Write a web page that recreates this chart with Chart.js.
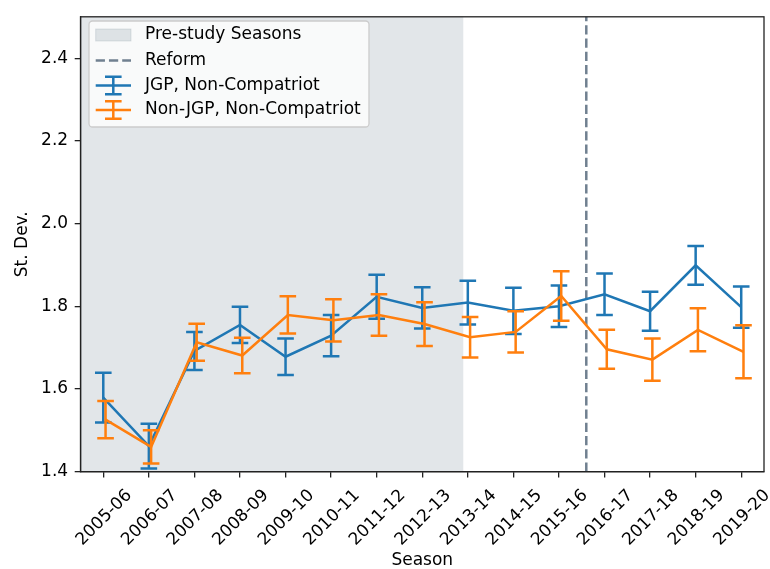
<!DOCTYPE html>
<html>
<head>
<meta charset="utf-8">
<script src="https://cdn.jsdelivr.net/npm/chart.js@4.4.1/dist/chart.umd.min.js"></script>
<style>
body{margin:0;background:#fff}
</style>
</head>
<body>
<canvas id="myChart" width="770" height="569"></canvas>
<script>
var seasons=['2005-06','2006-07','2007-08','2008-09','2009-10','2010-11','2011-12','2012-13','2013-14','2014-15','2015-16','2016-17','2017-18','2018-19','2019-20']
var yTicks=[1.4,1.6,1.8,2.0,2.2,2.4]

var jgp=[1.579,1.462,1.692,1.755,1.678,1.729,1.823,1.796,1.809,1.789,1.800,1.829,1.788,1.899,1.798]
var jgpErr=[0.060,0.054,0.046,0.044,0.044,0.050,0.053,0.050,0.053,0.056,0.050,0.050,0.047,0.047,0.050]
var nonJgp=[1.526,1.460,1.713,1.681,1.779,1.766,1.779,1.757,1.725,1.738,1.825,1.696,1.671,1.743,1.690]
var nonJgpErr=[0.045,0.040,0.045,0.043,0.045,0.051,0.050,0.053,0.049,0.050,0.060,0.047,0.051,0.052,0.064]

var preStudyEnd=7.9
var reformAt=10.6
var nonJgpShift=0.05

var blue='#1f77b4'
var orange='#ff7f0e'
var shade='rgba(112,128,144,0.2)'
var font='"DejaVu Sans"'
var fsize=17

function points(vals,shift){
    return vals.map(function(v,i){return {x:i+shift,y:v}})
}

var extras={
    id:'extras',
    beforeDatasetsDraw:function(chart){
        var ctx=chart.ctx, a=chart.chartArea, x=chart.scales.x
        ctx.save()
        ctx.fillStyle=shade
        var x1=x.getPixelForValue(preStudyEnd)
        ctx.fillRect(a.left,a.top,x1-a.left,a.bottom-a.top)
        var rx=x.getPixelForValue(reformAt)
        ctx.strokeStyle='slategray'
        ctx.lineWidth=2.5
        ctx.setLineDash([9.25,4])
        ctx.beginPath()
        ctx.moveTo(rx,a.bottom)
        ctx.lineTo(rx,a.top)
        ctx.stroke()
        ctx.restore()
    },
    afterDatasetDraw:function(chart,args){
        var ds=chart.data.datasets[args.index]
        var ctx=chart.ctx, x=chart.scales.x, y=chart.scales.y
        ctx.save()
        ctx.strokeStyle=ds.borderColor
        ctx.lineWidth=2.5
        ds.data.forEach(function(p,i){
            var e=ds.errors[i]
            var px=x.getPixelForValue(p.x)
            var t=y.getPixelForValue(p.y+e)
            var b=y.getPixelForValue(p.y-e)
            ctx.beginPath()
            ctx.moveTo(px,t);ctx.lineTo(px,b)
            ctx.moveTo(px-8.3,t);ctx.lineTo(px+8.3,t)
            ctx.moveTo(px-8.3,b);ctx.lineTo(px+8.3,b)
            ctx.stroke()
        })
        ctx.restore()
    },
    afterDraw:function(chart){
        var ctx=chart.ctx, a=chart.chartArea
        ctx.save()
        // frame
        ctx.strokeStyle='#222'
        ctx.lineWidth=1.3
        ctx.strokeRect(a.left,a.top,a.right-a.left,a.bottom-a.top)

        // legend
        ctx.fillStyle='rgba(255,255,255,0.8)'
        ctx.strokeStyle='#cccccc'
        ctx.lineWidth=1.3
        ctx.beginPath()
        ctx.roundRect(89,21,280,106,3.5)
        ctx.fill()
        ctx.stroke()

        var hx0=95.7, hx1=131, hc=113.3
        ctx.fillStyle=shade
        ctx.fillRect(hx0,29,hx1-hx0,12)
        ctx.strokeStyle=shade
        ctx.lineWidth=1
        ctx.strokeRect(hx0,29,hx1-hx0,12)

        ctx.strokeStyle='slategray'
        ctx.lineWidth=2.5
        ctx.setLineDash([9.25,4])
        ctx.beginPath()
        ctx.moveTo(hx0,60.5);ctx.lineTo(hx1,60.5)
        ctx.stroke()
        ctx.setLineDash([])

        ;[[blue,85.5],[orange,110]].forEach(function(h){
            ctx.strokeStyle=h[0]
            ctx.beginPath()
            ctx.moveTo(hx0,h[1]);ctx.lineTo(hx1,h[1])
            ctx.moveTo(hc,h[1]-8.8);ctx.lineTo(hc,h[1]+8.8)
            ctx.moveTo(hc-8.3,h[1]-8.8);ctx.lineTo(hc+8.3,h[1]-8.8)
            ctx.moveTo(hc-8.3,h[1]+8.8);ctx.lineTo(hc+8.3,h[1]+8.8)
            ctx.stroke()
        })

        ctx.fillStyle='#000'
        ctx.font=fsize+'px '+font
        ctx.textBaseline='middle'
        ctx.textAlign='left'
        ctx.fillText('Pre-study Seasons',145,35)
        ctx.fillText('Reform',145,60.5)
        ctx.fillText('JGP, Non-Compatriot',145,85.5)
        ctx.fillText('Non-JGP, Non-Compatriot',145,110)
        ctx.restore()
    }
}

var tickFont={family:font,size:fsize}

var myChart=document.getElementById('myChart').getContext('2d')
var chart=new Chart(myChart,{
    type:'line',
    data:{
        datasets:[
            {
                label:'Non-JGP, Non-Compatriot',
                data:points(nonJgp,nonJgpShift),
                errors:nonJgpErr,
                borderColor:orange,
                borderWidth:2.5,
                pointRadius:0,
                fill:false,
                order:1
            },
            {
                label:'JGP, Non-Compatriot',
                data:points(jgp,0),
                errors:jgpErr,
                borderColor:blue,
                borderWidth:2.5,
                pointRadius:0,
                fill:false,
                order:2
            }
        ]
    },
    options:{
        responsive:false,
        animation:false,
        devicePixelRatio:1,
        layout:{padding:{left:0,top:12.7,right:6,bottom:0}},
        plugins:{legend:{display:false},tooltip:{enabled:false}},
        scales:{
            x:{
                type:'linear',
                min:-0.5,
                max:14.5,
                afterBuildTicks:function(s){
                    s.ticks=seasons.map(function(_,i){return {value:i}})
                },
                afterFit:function(s){s.height=97.3},
                ticks:{
                    autoSkip:false,
                    minRotation:45,
                    maxRotation:45,
                    labelOffset:26,
                    padding:8,
                    color:'#000',
                    font:tickFont,
                    callback:function(v){return seasons[v]}
                },
                grid:{drawOnChartArea:false,tickLength:5.8,color:'#222',lineWidth:1.3},
                border:{color:'#222',width:1.3},
                title:{display:true,text:'Season',color:'#000',font:{family:font,size:fsize,lineHeight:1},padding:{top:0,bottom:0}}
            },
            y:{
                type:'linear',
                min:1.4,
                max:2.5,
                afterBuildTicks:function(s){
                    s.ticks=yTicks.map(function(v){return {value:v}})
                },
                afterFit:function(s){s.width=80.5},
                ticks:{
                    padding:6.6,
                    color:'#000',
                    font:tickFont,
                    callback:function(v){return v.toFixed(1)}
                },
                grid:{drawOnChartArea:false,tickLength:5.8,color:'#222',lineWidth:1.3},
                border:{color:'#222',width:1.3},
                title:{display:true,text:'St. Dev.',color:'#000',font:{family:font,size:fsize,lineHeight:1.2},padding:{top:12.4,bottom:0}}
            }
        }
    },
    plugins:[extras]
})
</script>
</body>
</html>
